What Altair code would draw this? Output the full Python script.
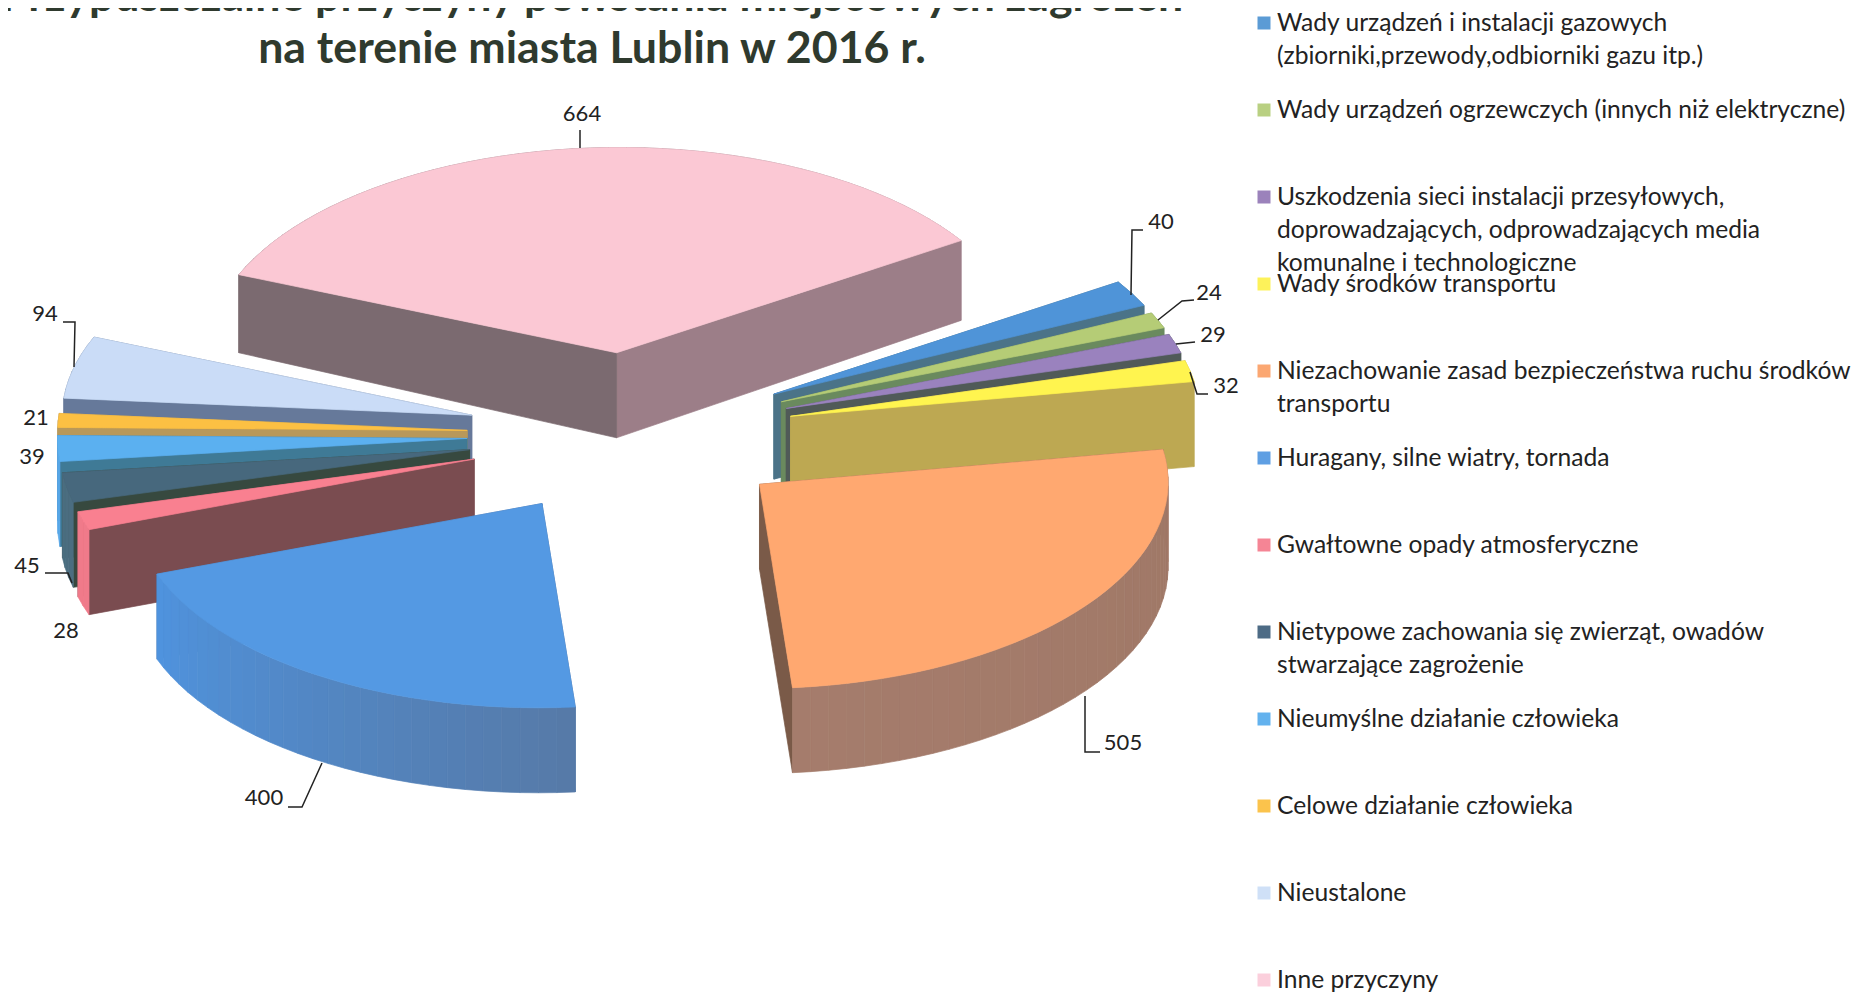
import altair as alt
import numpy as np

# ---------- data ----------
values = [40, 24, 29, 32, 505, 400, 28, 45, 39, 21, 94, 664]
names = [
    "Wady urządzeń i instalacji gazowych\n(zbiorniki,przewody,odbiorniki gazu itp.)",
    "Wady urządzeń ogrzewczych (innych niż elektryczne)",
    "Uszkodzenia sieci instalacji przesyłowych,\ndoprowadzających, odprowadzających media\nkomunalne i technologiczne",
    "Wady środków transportu",
    "Niezachowanie zasad bezpieczeństwa ruchu środków\ntransportu",
    "Huragany, silne wiatry, tornada",
    "Gwałtowne opady atmosferyczne",
    "Nietypowe zachowania się zwierząt, owadów\nstwarzające zagrożenie",
    "Nieumyślne działanie człowieka",
    "Celowe działanie człowieka",
    "Nieustalone",
    "Inne przyczyny",
]
top_colors = ["#4F94D8", "#B5CC76", "#9A82BE", "#FFF44F", "#FFA870", "#5499E3",
              "#F98090", "#47687D", "#5BB0F0", "#FCC043", "#CADCF7", "#FBC8D4"]
legend_colors = ["#5B9BD5", "#B9D082", "#9B82BB", "#FDF25A", "#FBA772", "#5F9FE3",
                 "#F58595", "#4D6B85", "#63B2EE", "#FBC34C", "#CFE0F7", "#FBCFDC"]
start_face = ["#4B7388", "#6A8A5E", "#505A58", "#BDA852", "#7F5F4F", "#4F6F9F",
              "#7A4C50", "#37493F", "#3F7A96", "#B8985A", "#66799A", "#7B6A70"]
end_face = ["#4B7388", "#6A8A5E", "#505A58", "#BDA852", "#7A5A48", "#4F6F9F",
            "#7A4C50", "#37493F", "#3F7A96", "#B8985A", "#66799A", "#9C7E88"]
arc_a = ["#4B7388", "#6A8A5E", "#505A58", "#BDA852", "#9F7866", "#567AA8",
         "#F07A8A", "#4B6D80", "#58A8E8", "#B8985A", "#66799A", "#7B6A70"]
arc_b = ["#4B7388", "#6A8A5E", "#505A58", "#BDA852", "#A57C6C", "#4F93DE",
         "#F07A8A", "#4B6D80", "#58A8E8", "#B8985A", "#66799A", "#9C7E88"]
title_text = "Przypuszczalne przyczyny powstania miejscowych zagrożeń\nna terenie miasta Lublin w 2016 r."

# annotation layout, in page pixels: label centre and leader path
label_xy = [(1161, 222), (1209, 293), (1213, 335), (1226, 386), (1123, 743), (264, 798),
            (66, 631), (27, 566), (32, 457), (36, 418), (45, 314), (582, 114)]
leaders = [
    [(1143, 230), (1132, 230), (1131, 295)],
    [(1194, 300), (1182, 301), (1158, 320)],
    [(1195, 342), (1176, 344)],
    [(1208, 394), (1197, 394), (1190, 372)],
    [(1100, 752), (1085, 752), (1085, 696)],
    [(288, 807), (302, 807), (322, 763)],
    [(45, 573), (68, 573), (72, 583)],
    [(63, 322), (75, 322), (74, 367)],
    [(580, 130), (580, 148)],
]

# ---------- 3-D pie model ----------
M = 8  # page margin
START = 66.5
EXPLODE = 0.40
H = np.array([[0.807683332195051, -0.13128821786316744, 0.06129161715475089],
              [-0.06809601912461316, -0.39897588660147854, 0.0677341252808441],
              [0.0003224415587041923, -0.0016029197130346857, 1.0]])
total = sum(values)


def project(X, Y):
    p = H @ [X, Y, 1]
    sy = p[1] / p[2] * 500 + 400
    sy += (sy - 391) * 0.012
    return (p[0] / p[2] * 500 + 600 - M, sy - M)


def depth(Y):
    return 85 if Y < 0.4 else 85 - 13 * (Y - 0.4)


def mix(a, b, t):
    ca = [int(a[i:i + 2], 16) for i in (1, 3, 5)]
    cb = [int(b[i:i + 2], 16) for i in (1, 3, 5)]
    return "#%02x%02x%02x" % tuple(round(x + (y - x) * t) for x, y in zip(ca, cb))


def feature(ring, color):
    return {"type": "Feature", "properties": {"c": color},
            "geometry": {"type": "Polygon", "coordinates": [[list(map(float, p)) for p in ring] + [list(map(float, ring[0]))]]}}


def slice_features(i):
    a0 = START + 360 * sum(values[:i]) / total
    a1 = a0 + 360 * values[i] / total
    mid = np.radians((a0 + a1) / 2)
    ox, oy = EXPLODE * np.sin(mid), EXPLODE * np.cos(mid)
    n = max(2, int((a1 - a0) / 2.5))
    plan = [(ox + np.sin(np.radians(a)), oy + np.cos(np.radians(a))) for a in np.linspace(a0, a1, n + 1)]
    top = [project(*q) for q in plan]
    apex = project(ox, oy)
    low = [(p[0], p[1] + depth(q[1])) for p, q in zip(top, plan)]
    apex_low = (apex[0], apex[1] + depth(oy))
    faces = []
    faces.append(((apex[1] + top[0][1]) / 2, feature([apex, top[0], low[0], apex_low], start_face[i])))
    faces.append(((apex[1] + top[-1][1]) / 2, feature([apex, top[-1], low[-1], apex_low], end_face[i])))
    for k in range(n):
        faces.append(((top[k][1] + top[k + 1][1]) / 2,
                      feature([top[k], top[k + 1], low[k + 1], low[k]], mix(arc_a[i], arc_b[i], k / max(n - 1, 1)))))
    faces.sort(key=lambda f: f[0])
    return [f[1] for f in faces] + [feature([apex] + top, top_colors[i])]


draw_order = [11, 0, 1, 2, 3, 10, 9, 8, 7, 6, 4, 5]
features = [f for i in draw_order for f in slice_features(i)]
leader_features = [{"type": "Feature", "properties": {},
                    "geometry": {"type": "LineString", "coordinates": [[x - M, y - M] for x, y in path]}}
                   for path in leaders]

proj = dict(type="identity", scale=1, translate=[0, 0])
pie = (alt.Chart(alt.Data(values=features)).mark_geoshape(strokeWidth=0.7)
       .encode(fill=alt.Color("properties.c:N", scale=None), stroke=alt.Color("properties.c:N", scale=None))
       .project(**proj))
lead = (alt.Chart(alt.Data(values=leader_features)).mark_geoshape(filled=False, stroke="#222222", strokeWidth=1.5)
        .project(**proj))
labels = (alt.Chart(alt.Data(values=[{"v": str(v), "lon": p[0] - M, "lat": p[1] - M} for v, p in zip(values, label_xy)]))
          .mark_text(font="Lato", fontSize=22, color="#222222", align="center", baseline="middle")
          .encode(longitude="lon:Q", latitude="lat:Q", text="v:N")
          .project(**proj))

leg = alt.Data(values=[{"n": n, "c": c, "i": k} for k, (n, c) in enumerate(zip(names, legend_colors))])
leg_y = alt.Y("i:O", axis=None, scale=alt.Scale(type="point", padding=0, range=[23 - M, 980 - M]))
squares = (alt.Chart(leg).mark_square(size=169, opacity=1)
           .encode(x=alt.value(1264 - M), y=leg_y, fill=alt.Color("c:N", scale=None)))
texts = (alt.Chart(leg).mark_text(font="Lato", fontSize=24.6, color="#222222", align="left", baseline="alphabetic",
                                  dy=8, lineBreak="\n", lineHeight=33)
         .encode(x=alt.value(1277 - M), y=leg_y, text="n:N"))
title = (alt.Chart(alt.Data(values=[{"t": title_text}]))
         .mark_text(font="Lato", fontWeight="bold", fontSize=44.7, color="#2F3A2E", align="center",
                    baseline="alphabetic", lineBreak="\n", lineHeight=52)
         .encode(x=alt.value(592 - M), y=alt.value(11 - M), text="t:N"))

chart = (alt.layer(pie, lead, labels, squares, texts, title)
         .properties(width=1843, height=984, padding=0, background="white",
                     autosize=alt.AutoSizeParams(type="none"))
         .configure_view(stroke=None))
chart.save("out.html", embed_options={"renderer": "svg", "actions": False})
